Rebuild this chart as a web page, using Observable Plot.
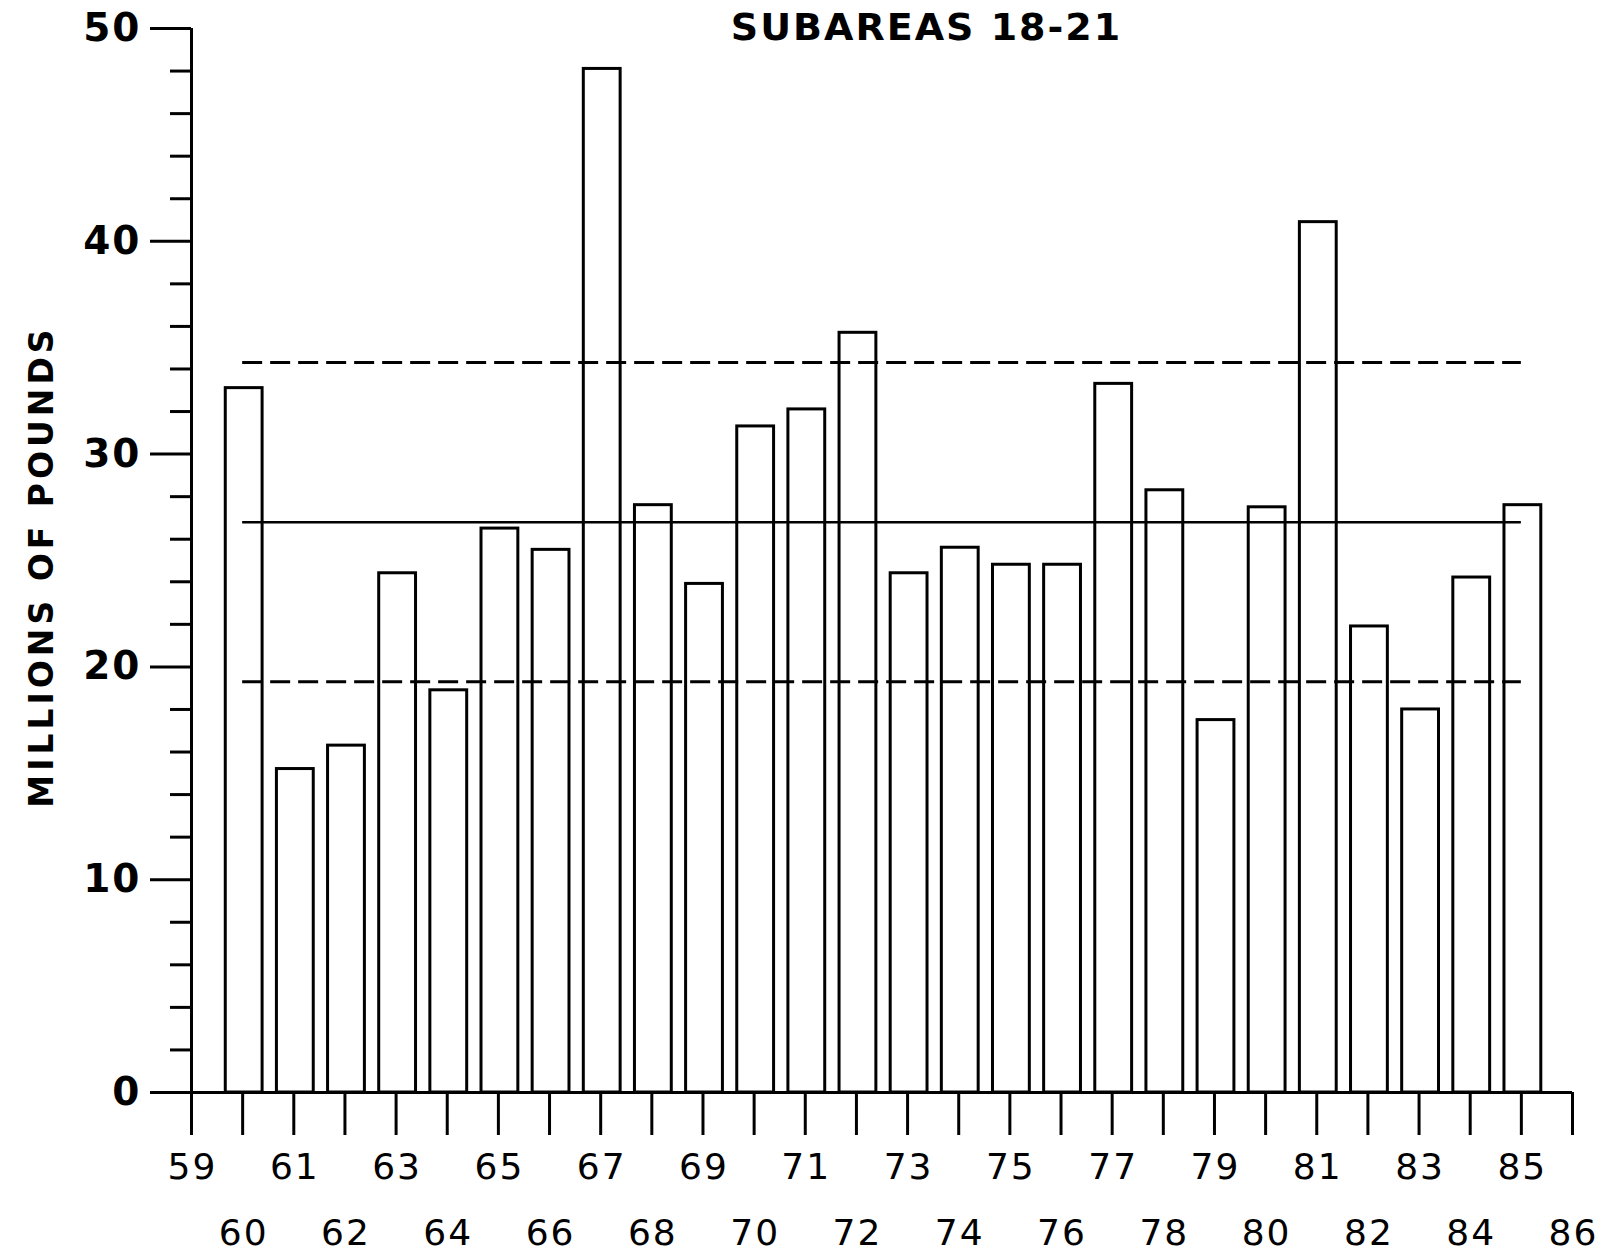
<!DOCTYPE html>
<html>
<head>
<meta charset="utf-8">
<script src="https://cdn.jsdelivr.net/npm/d3@7"></script>
<script src="https://cdn.jsdelivr.net/npm/@observablehq/plot@0.6"></script>
<style>
  html, body { margin: 0; padding: 0; background: #fff; }
  #chart svg { display: block; background: #fff; }
</style>
</head>
<body>
<div id="chart"></div>
<script>
// ---- data ----
const title = "SUBAREAS 18-21";
const yLabel = "MILLIONS OF POUNDS";
const years = [60, 61, 62, 63, 64, 65, 66, 67, 68, 69, 70, 71, 72, 73, 74, 75, 76, 77, 78, 79, 80, 81, 82, 83, 84, 85];
const values = [33.1, 15.2, 16.3, 24.4, 18.9, 26.5, 25.5, 48.1, 27.6, 23.9, 31.3, 32.1, 35.7, 24.4, 25.6, 24.8, 24.8, 33.3, 28.3, 17.5, 27.5, 40.9, 21.9, 18.0, 24.2, 27.6];
const meanLine = 26.8;
const upperLine = 34.3;
const lowerLine = 19.3;
const xTickYears = [59, 60, 61, 62, 63, 64, 65, 66, 67, 68, 69, 70, 71, 72, 73, 74, 75, 76, 77, 78, 79, 80, 81, 82, 83, 84, 85, 86];
const yMajorTicks = [0, 10, 20, 30, 40, 50];
const yMinorTicks = [2, 4, 6, 8, 12, 14, 16, 18, 22, 24, 26, 28, 32, 34, 36, 38, 42, 44, 46, 48];

const data = years.map((y, i) => ({year: y, value: values[i]}));
const oddLabels = xTickYears.filter(y => y % 2 === 1);
const evenLabels = xTickYears.filter(y => y % 2 === 0);

const W = 1601, H = 1255;
const mL = 191, mR = 29, mT = 28, mB = 163;
const frameMidX = (mL + (W - mR)) / 2;
const frameMidY = (mT + (H - mB)) / 2;

const boldFont = "DejaVu Sans";
const lw = 3;

const chart = Plot.plot({
  width: W,
  height: H,
  marginLeft: mL,
  marginRight: mR,
  marginTop: mT,
  marginBottom: mB,
  style: {background: "#fff", color: "#000", fontFamily: "DejaVu Sans"},
  x: {domain: [59, 86], axis: null},
  y: {domain: [0, 50], axis: null},
  marks: [
    // bars
    Plot.rect(data, {
      x1: d => d.year - 0.33,
      x2: d => d.year + 0.39,
      y1: 0,
      y2: "value",
      fill: "#fff",
      stroke: "#000",
      strokeWidth: lw
    }),
    // reference lines
    Plot.ruleY([meanLine], {x1: 60, x2: 85, stroke: "#000", strokeWidth: 2.5}),
    Plot.ruleY([upperLine, lowerLine], {x1: 60, x2: 85, stroke: "#000", strokeWidth: 3, strokeDasharray: "20,8"}),
    // y axis: major ticks with labels
    Plot.axisY({
      ticks: yMajorTicks,
      tickSize: 41,
      tickPadding: 9,
      strokeWidth: lw,
      fontSize: 39,
      fontWeight: "bold",
      fontFamily: boldFont,
      label: null
    }),
    // y axis: minor ticks
    Plot.axisY({
      ticks: yMinorTicks,
      tickSize: 21,
      strokeWidth: lw,
      text: null,
      label: null
    }),
    // axis lines
    Plot.ruleX([59], {y1: 0, y2: 50, stroke: "#000", strokeWidth: lw}),
    Plot.ruleY([0], {x1: 59, x2: 86, stroke: "#000", strokeWidth: lw}),
    // x ticks (down)
    Plot.axisX({
      ticks: xTickYears,
      tickSize: 43,
      strokeWidth: lw,
      text: null,
      label: null
    }),
    // x labels, two staggered rows
    Plot.text(oddLabels, {
      x: d => d,
      text: d => String(d),
      frameAnchor: "bottom",
      lineAnchor: "bottom",
      dx: 1,
      dy: 86,
      fontSize: 36,
      fontFamily: "DejaVu Sans",
      fill: "#000"
    }),
    Plot.text(evenLabels, {
      x: d => d,
      text: d => String(d),
      frameAnchor: "bottom",
      lineAnchor: "bottom",
      dx: 1,
      dy: 152,
      fontSize: 36,
      fontFamily: "DejaVu Sans",
      fill: "#000"
    }),
    // title
    Plot.text([title], {
      frameAnchor: "top",
      lineAnchor: "bottom",
      dx: 926 - frameMidX,
      dy: 11,
      fontSize: 38,
      fontWeight: "bold",
      fontFamily: boldFont,
      fill: "#000"
    }),
    // y label
    Plot.text([yLabel], {
      frameAnchor: "left",
      textAnchor: "middle",
      lineAnchor: "middle",
      rotate: -90,
      dx: 42 - mL,
      dy: 566 - frameMidY,
      fontSize: 33,
      fontWeight: "bold",
      fontFamily: boldFont,
      fill: "#000"
    })
  ]
});

const majorSet = new Set(yMajorTicks.map(String));
const xSet = new Set(xTickYears.map(String));
chart.querySelectorAll("text").forEach(t => {
  if (t.textContent === yLabel) t.setAttribute("letter-spacing", "4");
  else if (t.textContent === title) t.setAttribute("letter-spacing", "2");
  else if (xSet.has(t.textContent)) t.setAttribute("letter-spacing", "2");
  else if (majorSet.has(t.textContent)) t.setAttribute("letter-spacing", "2");
});
document.getElementById("chart").appendChild(chart);
</script>
</body>
</html>
